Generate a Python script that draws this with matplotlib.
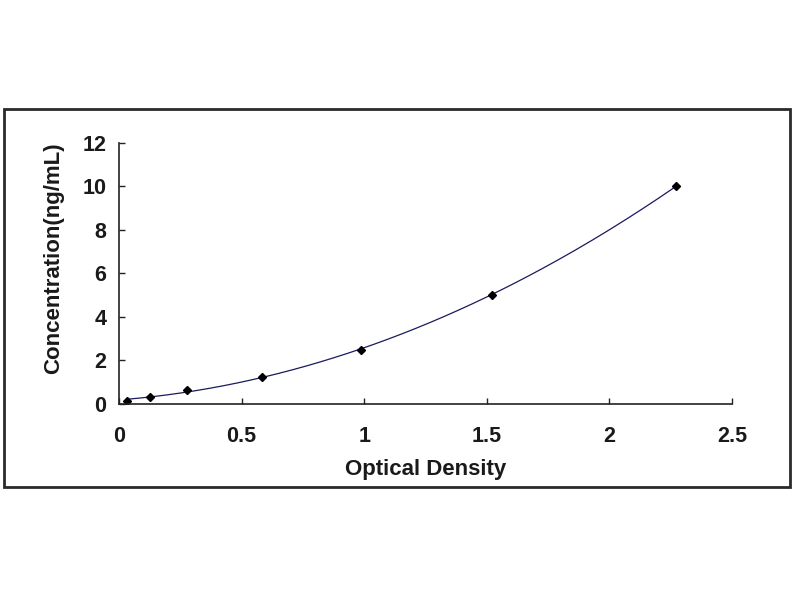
import numpy as np
import matplotlib
matplotlib.use("Agg")
import matplotlib.pyplot as plt
from matplotlib.patches import Rectangle

# standard curve values
optical_density = [0.031, 0.126, 0.276, 0.583, 0.986, 1.52, 2.27]
concentration = [0.156, 0.312, 0.625, 1.25, 2.5, 5, 10]

x_ticks = [0, 0.5, 1, 1.5, 2, 2.5]
x_tick_labels = ["0", "0.5", "1", "1.5", "2", "2.5"]
y_ticks = [0, 2, 4, 6, 8, 10, 12]

plt.rcParams['font.family'] = ['Liberation Sans', 'DejaVu Sans']
plt.rcParams['font.weight'] = 'bold'

fig = plt.figure(figsize=(8, 6), dpi=100)
fig.patch.set_facecolor('white')

# outer frame round the chart
fig.patches.append(Rectangle((4 / 800, 113 / 600), 786 / 800, 378 / 600,
                             transform=fig.transFigure, fill=False,
                             edgecolor='#2a2a2a', linewidth=2))

ax = fig.add_axes([0.14875, 0.3267, 0.915 - 0.14875, 0.762 - 0.3267])

# trend line (polynomial fit through the standards)
coef = np.polyfit(optical_density, concentration, 2)
xs = np.linspace(min(optical_density), max(optical_density), 200)
ax.plot(xs, np.polyval(coef, xs), color='#1a1a5e', linewidth=0.9)
ax.plot(optical_density, concentration, linestyle='none', marker='D',
        markersize=4.5, color='black')

ax.set_xlim(0, 2.5)
ax.set_ylim(0, 12)
ax.set_xticks(x_ticks)
ax.set_xticklabels(x_tick_labels)
ax.set_yticks(y_ticks)

for side in ('top', 'right'):
    ax.spines[side].set_visible(False)
for side in ('left', 'bottom'):
    ax.spines[side].set_color('#222222')
    ax.spines[side].set_linewidth(1.2)

ax.tick_params(direction='in', length=4, width=1, colors='#222222',
               labelsize=15.5, labelcolor='#1a1a1a')
ax.tick_params(axis='x', pad=16)
ax.tick_params(axis='y', pad=9)

ax.set_xlabel('Optical Density', fontsize=16, fontweight='heavy', color='#1a1a1a')
ax.set_ylabel('Concentration(ng/mL)', fontsize=16, fontweight='heavy', color='#1a1a1a')
ax.xaxis.set_label_coords(0.5, -0.21)
ax.yaxis.set_label_coords(-0.09, 0.56)

fig.savefig('out.png', dpi=100, facecolor='white')
